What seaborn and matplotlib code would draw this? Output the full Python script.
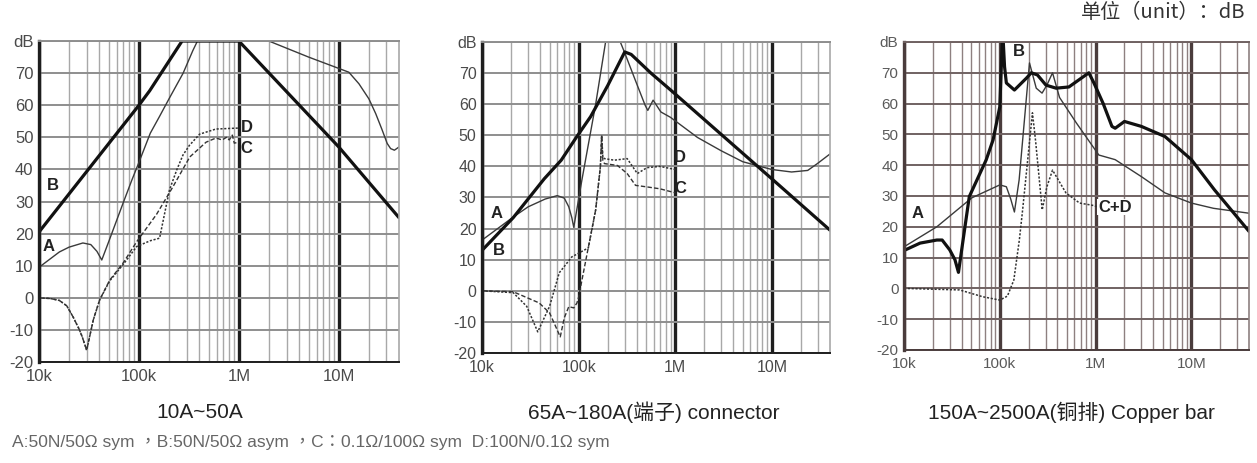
import matplotlib
matplotlib.use('Agg')
import matplotlib.pyplot as plt
import seaborn as sns
from matplotlib.ticker import FixedLocator, FixedFormatter, NullFormatter

# ---------------- data ----------------
# panel 1 : 10A~50A
p1_a_freq = [1e4, 1.6e4, 2e4, 2.75e4, 3.3e4, 3.8e4, 4.25e4, 5e4, 7e4, 8.5e4, 1e5, 1.3e5,
             1.6e5, 2e5, 2.77e5, 3.46e5, 3.85e5, 1e6, 2e6, 5e6, 1.26e7, 1.59e7, 2e7,
             2.34e7, 2.7e7, 3.05e7, 3.3e7, 3.6e7, 4e7]
p1_a_db = [9.5, 14.3, 15.8, 17.1, 16.6, 14.5, 11.8, 17.6, 29.8, 36.7, 42.2, 51.3,
           56.4, 62, 70, 77, 80, 80, 80, 75, 70.3, 66.7, 62, 57.4, 52.5, 48.1, 46.5, 46, 47]
p1_b_freq = [1e4, 1e5, 1.28e5, 2.7e5, 1e6, 1e7, 4e7]
p1_b_db = [20.5, 60, 64.5, 80, 80, 47, 25]
p1_c_freq = [1e4, 1.3e4, 1.6e4, 1.9e4, 2.2e4, 2.5e4, 2.7e4, 3e4, 3.5e4, 4.05e4, 5.1e4,
             7e4, 9.5e4, 1.5e5, 2.18e5, 3.23e5, 4.7e5, 5.9e5, 6.8e5, 7.6e5, 8e5, 8.6e5,
             9e5, 1e6]
p1_c_db = [0, -0.2, -0.8, -2.5, -6, -9.5, -12, -16.3, -6.8, -0.6, 5.5, 11, 17.5, 26,
           34.5, 43.9, 48.5, 49.8, 49.2, 50.1, 49.2, 50.7, 48.2, 48.5]
p1_d_freq = [1e4, 1.3e4, 1.6e4, 1.9e4, 2.2e4, 2.5e4, 2.7e4, 3e4, 3.5e4, 4.05e4, 5.1e4,
             7e4, 9.5e4, 1.3e5, 1.61e5, 2.02e5, 2.4e5, 2.76e5, 3.2e5, 4.05e5, 5.9e5, 1e6]
p1_d_db = [0, -0.2, -0.8, -2.5, -6, -9.5, -12, -16.3, -6.8, -0.6, 5.3, 10.5, 16,
           17.8, 18.6, 33.6, 40, 44.5, 47.5, 51, 52.6, 52.9]

# panel 2 : 65A~180A connector
p2_a_freq = [1e4, 2.1e4, 3e4, 4.5e4, 6e4, 7.1e4, 7.9e4, 8.5e4, 8.9e4, 1.08e5, 1.5e5,
             1.9e5, 2.7e5, 3e5, 3.85e5, 4.87e5, 5.2e5, 5.9e5, 7.1e5, 8.9e5, 1.7e6,
             3e6, 5e6, 1e7, 1.6e7, 2.35e7, 2.96e7, 4e7]
p2_a_db = [16.3, 23.7, 27, 29.5, 30.6, 29.8, 27, 23.5, 20.4, 35.6, 60, 80, 80, 76.5,
           67.8, 59.7, 58, 61.3, 57.5, 55.8, 49.3, 45, 41.5, 39, 38.2, 38.7, 40.9, 44]
p2_b_freq = [1e4, 2.1e4, 4.4e4, 6.6e4, 9.3e4, 1.33e5, 2e5, 3e5, 3.5e5, 5.6e5, 9e5,
             1e7, 4e7]
p2_b_db = [13, 23.5, 36, 42, 49, 56, 66, 76.8, 76, 70, 64.5, 36, 19.5]
p2_c_freq = [1e4, 2.1e4, 3.9e4, 5e4, 6.45e4, 7.1e4, 7.9e4, 8.9e4, 9.6e4, 1e5, 1.26e5,
             1.5e5, 1.68e5, 1.73e5, 1.78e5, 1.85e5, 2.52e5, 3.18e5, 3.88e5, 5.1e5,
             6.93e5, 1e6]
p2_c_db = [0, -0.3, -3.9, -7.1, -14.8, -8.7, -5.1, -5.5, -3.9, -2, 14, 26, 40, 50,
           42, 40.9, 40.3, 37.7, 33.9, 33.4, 32.8, 31.5]
p2_d_freq = [1e4, 2.1e4, 2.9e4, 3.77e4, 5e4, 6.3e4, 8.5e4, 1.26e5, 1.5e5, 1.68e5,
             1.73e5, 1.78e5, 1.85e5, 2.34e5, 3.18e5, 4.05e5, 5.1e5, 6.93e5, 1e6]
p2_d_db = [0, -0.6, -5, -13.2, -5, 5.8, 10.9, 13.8, 26, 40, 50, 43, 42.5, 42, 42.5,
           37.7, 39.6, 40, 39]

# panel 3 : 150A~2500A copper bar
p3_a_freq = [1e4, 2.2e4, 5.1e4, 1e5, 1.17e5, 1.3e5, 1.42e5, 1.59e5, 2.04e5, 2.4e5,
             2.76e5, 3.1e5, 3.55e5, 4.2e5, 6.3e5, 1.08e6, 1.6e6, 3e6, 5.3e6, 1e7,
             1.7e7, 4e7]
p3_a_db = [13.5, 20, 29.4, 33.6, 33, 29, 24.8, 35.2, 73.2, 65, 63.4, 66, 70, 62, 53.7,
           43.3, 41.8, 36.3, 31, 27.7, 26, 24.4]
p3_b_freq = [1e4, 1.47e4, 2.2e4, 2.5e4, 3e4, 3.4e4, 3.7e4, 4.8e4, 7.2e4, 8.5e4, 1e5,
             1.07e5, 1.12e5, 1.17e5, 1.42e5, 1.9e5, 2.13e5, 2.47e5, 3.03e5, 3.87e5,
             5.26e5, 7.9e5, 8.5e5, 9.6e5, 1.2e6, 1.48e6, 1.6e6, 2e6, 3e6, 5.3e6, 1e7,
             1.74e7, 4e7]
p3_b_db = [12.3, 14.7, 15.7, 15.7, 12.5, 9.3, 5.2, 29.8, 41.7, 48.2, 59, 84, 72, 66.7,
           64.4, 68.3, 70, 69.3, 66, 65, 65.4, 69.3, 70, 66.7, 60, 52.6, 52, 54.2, 52.6,
           49.3, 41.8, 32, 18.5]
p3_cd_freq = [1e4, 3.8e4, 6.6e4, 1e5, 1.2e5, 1.4e5, 1.6e5, 1.73e5, 1.9e5, 2.19e5,
              2.36e5, 2.77e5, 3.1e5, 3.55e5, 4.9e5, 6.8e5, 9.2e5, 1.05e6]
p3_cd_db = [0, -0.5, -2.7, -3.8, -2.5, 2.7, 15.8, 25.5, 38, 57, 48, 25.5, 33, 38.4,
            31, 27.7, 27, 26.5]

y_ticks = [-20, -10, 0, 10, 20, 30, 40, 50, 60, 70, 80]
y_tick_labels = ['-20', '-10', '0', '10', '20', '30', '40', '50', '60', '70', 'dB']
x_ticks = [1e4, 1e5, 1e6, 1e7]
x_tick_labels = ['10k', '100k', '1M', '10M']

titles = ['10A~50A', '65A~180A(端子) connector', '150A~2500A(铜排) Copper bar']
footer = 'A:50N/50Ω sym ，B:50N/50Ω asym ，C：0.1Ω/100Ω sym  D:100N/0.1Ω sym'
unit_text = '单位（unit）：dB'

LATIN_CJK = ['Liberation Sans', 'Noto Sans CJK TC']

sns.set_style('white')
plt.rcParams['font.family'] = ['Liberation Sans', 'Noto Sans CJK SC', 'DejaVu Sans']

THICK = dict(color='#111111', linewidth=2.3)
THIN = dict(color='#3a3a3a', linewidth=1.0)
DASH = dict(color='#333333', linewidth=1.0, linestyle=(0, (3.2, 1.6)))
DOT = dict(color='#333333', linewidth=1.1, linestyle=(0, (1.4, 1.1)))


def draw_curve(ax, freq, db, style):
    sns.lineplot(x=freq, y=db, ax=ax, estimator=None, sort=False, **style)


def setup_axes(ax, grid_minor, grid_h, grid_major, tick_color, tick_size):
    ax.set_xscale('log')
    ax.set_xlim(1e4, 4e7)
    ax.set_ylim(-20, 80)
    ax.xaxis.set_major_locator(FixedLocator(x_ticks))
    ax.xaxis.set_major_formatter(FixedFormatter(x_tick_labels))
    minors = [m * 10 ** e for e in range(4, 8) for m in range(2, 10) if m * 10 ** e < 4e7]
    ax.xaxis.set_minor_locator(FixedLocator(minors))
    ax.xaxis.set_minor_formatter(NullFormatter())
    ax.set_yticks(y_ticks)
    ax.set_yticklabels(y_tick_labels)
    ax.set_axisbelow(True)
    ax.grid(which='minor', axis='x', color=grid_minor, linewidth=1.0)
    ax.grid(which='major', axis='y', color=grid_h, linewidth=1.4)
    ax.grid(which='major', axis='x', color=grid_major, linewidth=2.4)
    ax.tick_params(axis='both', which='both', length=0, labelsize=tick_size,
                   labelcolor=tick_color)
    ax.tick_params(axis='x', pad=5)
    ax.tick_params(axis='y', pad=4)
    ax.spines['left'].set_color(grid_major)
    ax.spines['left'].set_linewidth(2.4)
    ax.spines['bottom'].set_color(grid_major)
    ax.spines['bottom'].set_linewidth(1.4)
    ax.spines['top'].set_color(grid_h)
    ax.spines['top'].set_linewidth(1.4)
    ax.spines['right'].set_color(grid_minor)
    ax.spines['right'].set_linewidth(1.2)
    ax.set_xlabel('')
    ax.set_ylabel('')


def label(ax, text, f, db, box=False):
    kw = dict(ha='center', va='center', fontsize=12, fontweight='bold',
              color='#222222', zorder=5)
    if box:
        kw['bbox'] = dict(facecolor='white', edgecolor='none', pad=0.5)
    ax.text(f, db, text, **kw)


fig = plt.figure(figsize=(12.57, 4.63), dpi=100)
ax1 = fig.add_axes([0.031, 0.218, 0.2864, 0.6933])
ax2 = fig.add_axes([0.3835, 0.2376, 0.2768, 0.6717])
ax3 = fig.add_axes([0.7192, 0.2441, 0.2745, 0.6652])

# panel 1
setup_axes(ax1, '#a8a8a8', '#8e8e8e', '#1e1e1e', '#4a4a4a', 12)
draw_curve(ax1, p1_c_freq, p1_c_db, DASH)
draw_curve(ax1, p1_d_freq, p1_d_db, DOT)
draw_curve(ax1, p1_a_freq, p1_a_db, THIN)
draw_curve(ax1, p1_b_freq, p1_b_db, THICK)
label(ax1, 'B', 1.39e4, 35)
label(ax1, 'A', 1.26e4, 16)
label(ax1, 'D', 1.19e6, 53)
label(ax1, 'C', 1.19e6, 46.5)

# panel 2
setup_axes(ax2, '#a8a8a8', '#8e8e8e', '#1e1e1e', '#4a4a4a', 11.5)
draw_curve(ax2, p2_c_freq, p2_c_db, DASH)
draw_curve(ax2, p2_d_freq, p2_d_db, DOT)
draw_curve(ax2, p2_a_freq, p2_a_db, THIN)
draw_curve(ax2, p2_b_freq, p2_b_db, THICK)
label(ax2, 'A', 1.4e4, 24.8)
label(ax2, 'B', 1.5e4, 13)
label(ax2, 'D', 1.13e6, 43)
label(ax2, 'C', 1.13e6, 33)

# panel 3
setup_axes(ax3, '#8e8080', '#706262', '#4a3c3c', '#5a5a5a', 11)
draw_curve(ax3, p3_cd_freq, p3_cd_db, DOT)
draw_curve(ax3, p3_a_freq, p3_a_db, THIN)
draw_curve(ax3, p3_b_freq, p3_b_db, THICK)
label(ax3, 'A', 1.4e4, 24.4)
label(ax3, 'B', 1.58e5, 77, box=True)
label(ax3, 'C+D', 1.59e6, 26.4, box=True)

# captions
for x, t in zip([0.159, 0.520, 0.852], titles):
    fig.text(x, 0.110, t, ha='center', va='center', fontsize=15,
             color='#222222', family=['Liberation Sans', 'Noto Sans CJK SC'])
fig.text(0.0095, 0.045, footer, ha='left', va='center', fontsize=12.5,
         color='#666666', family=LATIN_CJK)
fig.text(0.9905, 0.972, unit_text, ha='right', va='center', fontsize=14.5,
         color='#333333', family=['Noto Sans CJK SC', 'DejaVu Sans'])

fig.savefig('out.png', dpi=100)
